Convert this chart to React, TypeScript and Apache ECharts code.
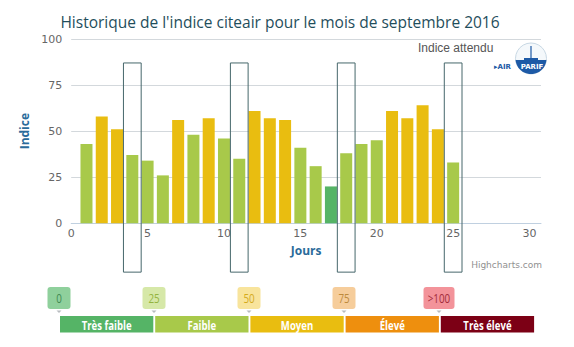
import React, { useEffect, useRef } from "react";
import * as echarts from "echarts";

const days = [1,2,3,4,5,6,7,8,9,10,11,12,13,14,15,16,17,18,19,20,21,22,23,24,25];
const indices = [43,58,51,37,34,26,56,48,57,46,35,61,57,56,41,31,20,38,43,45,61,57,64,51,33];
const sundays = [4, 11, 18, 25];
const xTicks = ["0","5","10","15","20","25","30"];
const levelLabels = ["Très faible", "Faible", "Moyen", "Élevé", "Très élevé"];
const thresholdLabels = ["0", "25", "50", "75", ">100"];

const levelColors = ["#55b466", "#a8c94a", "#e9bd10", "#ee8f0e", "#7c0015"];
const badgeFill = ["#8fd09c", "#d6e8a8", "#f8e49c", "#f6cd9b", "#f3939a"];
const badgeText = ["#3f8a52", "#94b440", "#d4aa1c", "#bd8a3c", "#a22c3a"];

function barColor(v: number) {
  if (v < 25) return levelColors[0];
  if (v < 50) return levelColors[1];
  if (v < 75) return levelColors[2];
  if (v < 100) return levelColors[3];
  return levelColors[4];
}

export default function App() {
  const ref = useRef<HTMLDivElement>(null);
  useEffect(() => {
    if (!ref.current) return;
    const chart = echarts.init(ref.current, null, { renderer: "svg" });

    const legendGraphics: any[] = [];
    const segX0 = 60, segStep = 95.2, segW = 93.3, segY = 316, segH = 16.5;
    levelLabels.forEach((lab, i) => {
      legendGraphics.push({
        type: "rect",
        shape: { x: segX0 + i * segStep, y: segY, width: segW, height: segH },
        style: { fill: levelColors[i] },
      });
      legendGraphics.push({
        type: "text",
        x: segX0 + i * segStep + segW / 2,
        y: segY + segH / 2 + 0.5,
        scaleX: 0.8,
        style: {
          text: lab, fill: "#ffffff", font: "bold 12px 'Open Sans'",
          textAlign: "center", textVerticalAlign: "middle",
        },
      });
    });
    const badgeCenters = [59, 154, 249, 344, 439];
    const badgeWidths = [23, 23, 23, 23, 31];
    const pointerX = [59, 154, 249, 344, 439];
    thresholdLabels.forEach((lab, i) => {
      const cx = badgeCenters[i];
      const w = badgeWidths[i];
      legendGraphics.push({
        type: "rect",
        shape: { x: cx - w / 2, y: 287, width: w, height: 22, r: 3 },
        style: { fill: badgeFill[i] },
      });
      legendGraphics.push({
        type: "polygon",
        shape: { points: [[pointerX[i] - 2.5, 310.5], [pointerX[i] + 2.5, 310.5], [pointerX[i], 313]] },
        style: { fill: "#b8bcc0" },
      });
      legendGraphics.push({
        type: "text",
        x: cx,
        y: 298,
        scaleX: 0.82,
        style: {
          text: lab, fill: badgeText[i], font: "12px 'Open Sans'",
          textAlign: "center", textVerticalAlign: "middle",
        },
      });
    });

    // Airparif logo approximation
    const lcx = 531, lcy = 58.5, lr = 15.5;
    const domePts: number[][] = [];
    for (let k = 0; k <= 24; k++) {
      const a = Math.asin(0.1) + (k / 24) * (Math.PI - 2 * Math.asin(0.1));
      domePts.push([lcx + lr * Math.cos(a), lcy + lr * Math.sin(a)]);
    }
    domePts.push([lcx - lr * Math.cos(Math.asin(0.1)) , lcy + 1.5]);
    const logo = [
      { type: "circle", shape: { cx: lcx, cy: lcy, r: lr }, style: { fill: "#f4f8fb", stroke: "#c8d8e4", lineWidth: 1 } },
      { type: "polygon", shape: { points: domePts }, style: { fill: "#1d5aa6" } },
      { type: "line", shape: { x1: lcx, y1: 46, x2: lcx, y2: 60 }, style: { stroke: "#1d5aa6", lineWidth: 1.2 } },
      { type: "rect", shape: { x: lcx - 7, y: 58, width: 14, height: 2.5 }, style: { fill: "#1d5aa6" } },
      { type: "text", x: 494, y: 67, style: { text: "▸AIR", fill: "#1d5aa6", font: "bold 7px 'DejaVu Sans'", textVerticalAlign: "middle" } },
      { type: "text", x: lcx + 1, y: 67, style: { text: "PARIF", fill: "#ffffff", font: "bold 7px 'DejaVu Sans'", textAlign: "center", textVerticalAlign: "middle" } },
    ];

    chart.setOption({
      animation: false,
      backgroundColor: "#ffffff",
      title: {
        text: "Historique de l'indice citeair pour le mois de septembre 2016",
        left: 275, top: 9, textAlign: "center",
        textStyle: { color: "#1f4e5c", fontSize: 15.5, fontWeight: "normal", fontFamily: "'Open Sans'" },
      },
      grid: { left: 71.2, right: 33, top: 39, bottom: 123.7 },
      xAxis: {
        type: "value", min: 0, max: 30.75, interval: 5,
        axisLine: { show: true, lineStyle: { color: "#c0d0e0", width: 1 } },
        axisTick: { show: false },
        splitLine: { show: false },
        axisLabel: {
          color: "#666666", fontSize: 11, margin: 5, fontFamily: "'DejaVu Sans'",
          formatter: (v: number) => (xTicks.includes(String(v)) ? String(v) : ""),
        },
        name: "Jours", nameLocation: "middle", nameGap: 20,
        nameTextStyle: { color: "#2a6b9a", fontWeight: "bold", fontSize: 12, fontFamily: "'Open Sans'" },
      },
      yAxis: {
        type: "value", min: 0, max: 100, interval: 25,
        axisLine: { show: false }, axisTick: { show: false },
        splitLine: { lineStyle: { color: "#d3d8dc", width: 1 } },
        axisLabel: { color: "#666666", fontSize: 11, margin: 9, fontFamily: "'DejaVu Sans'" },
        name: "Indice", nameLocation: "middle", nameGap: 33.5, nameRotate: 90,
        nameTextStyle: { color: "#2a6b9a", fontWeight: "bold", fontSize: 12, fontFamily: "'Open Sans'" },
      },
      series: [
        {
          type: "bar",
          barWidth: 12,
          data: days.map((d, i) => ({ value: [d, indices[i]], itemStyle: { color: barColor(indices[i]) } })),
        },
        {
          type: "custom",
          clip: false,
          z: 5,
          data: sundays.map((d) => [d]),
          renderItem: (params: any, api: any) => {
            const x = api.value(0);
            const p1 = api.coord([x - 0.58, 87]);
            const p2 = api.coord([x + 0.58, -26.5]);
            return {
              type: "rect",
              shape: { x: p1[0], y: p1[1], width: p2[0] - p1[0], height: p2[1] - p1[1] },
              style: { fill: "none", stroke: "#46676b", lineWidth: 1 },
            };
          },
        },
      ],
      graphic: [
        { type: "text", x: 418, y: 48, style: { text: "Indice attendu", fill: "#555555", font: "12px 'Liberation Sans'", textVerticalAlign: "middle" } },
        { type: "text", x: 542, y: 265, style: { text: "Highcharts.com", fill: "#909090", font: "9px 'DejaVu Sans'", textAlign: "right", textVerticalAlign: "middle" } },
        ...logo,
        ...legendGraphics,
      ],
    });
    return () => chart.dispose();
  }, []);
  return <div ref={ref} style={{ position: "fixed", left: 0, top: 0, width: 574, height: 347 }} />;
}
